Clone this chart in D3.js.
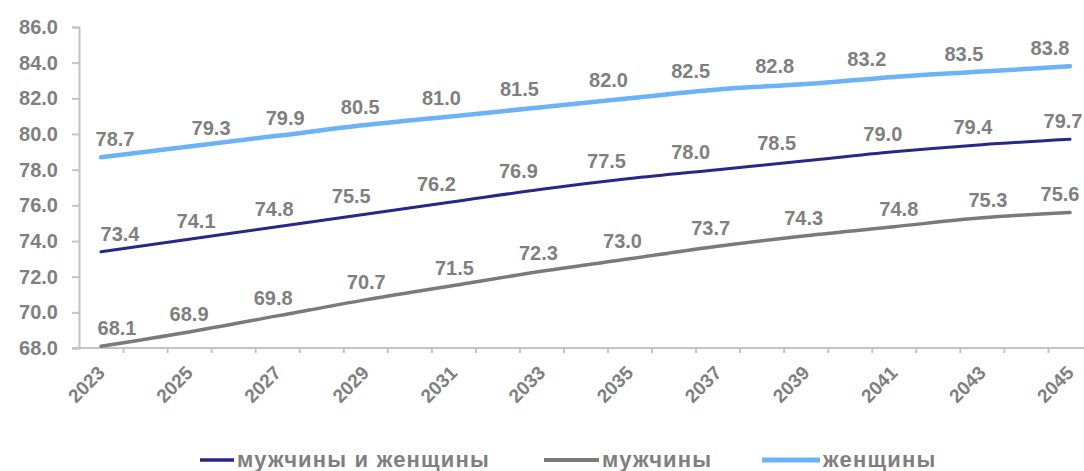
<!DOCTYPE html>
<html>
<head>
<meta charset="utf-8">
<script src="https://cdn.jsdelivr.net/npm/d3@7/dist/d3.min.js"></script>
<style>
  html, body { margin: 0; padding: 0; background: #fff; }
  svg { display: block; }
  text { font-family: "Liberation Sans", Arial, sans-serif; font-weight: bold; fill: #7f7f7f; }
</style>
</head>
<body>
<svg id="chart" width="1084" height="471"></svg>
<script>
// ---- data ----
const years = [2023, 2025, 2027, 2029, 2031, 2033, 2035, 2037, 2039, 2041, 2043, 2045];
const both  = [73.4, 74.1, 74.8, 75.5, 76.2, 76.9, 77.5, 78.0, 78.5, 79.0, 79.4, 79.7];
const men   = [68.1, 68.9, 69.8, 70.7, 71.5, 72.3, 73.0, 73.7, 74.3, 74.8, 75.3, 75.6];
const women = [78.7, 79.3, 79.9, 80.5, 81.0, 81.5, 82.0, 82.5, 82.8, 83.2, 83.5, 83.8];
const yTicks = [68, 70, 72, 74, 76, 78, 80, 82, 84, 86];
const seriesNames = ["мужчины и женщины", "мужчины", "женщины"];

// ---- styling / layout ----
const colors = ["#27278a", "#7a7a7a", "#6cb2f6"];
const widths = [3, 3.5, 4.5];
// small per-label horizontal nudges (as placed in the original chart)
const labelNudge = [
  [19, 7, -3, -14, -17, -23, -23, -27, -29, -11, -9, -7],
  [16, 0, -4, 1, 1, -3, -7, -7, -2, 5, 6, -10],
  [14, 22, 8, -5, -12, -22, -21, -27, -31, -27, -18, -20]
];

const svg = d3.select("#chart");
const x = d3.scaleLinear().domain([2023, 2045]).range([101, 1070]);
const y = d3.scaleLinear().domain([68, 86]).range([348, 27]);
const axisColor = "#c3c3c3";

// y axis
const yAxisX = x(2022.5);
const gy = svg.append("g").attr("transform", `translate(${yAxisX},0)`)
  .call(d3.axisLeft(y).tickValues(yTicks).tickFormat(d3.format(".1f")).tickSize(7).tickPadding(14));
gy.select(".domain").attr("stroke", axisColor).attr("stroke-width", 2);
gy.selectAll(".tick line").attr("stroke", axisColor).attr("stroke-width", 2);
gy.selectAll(".tick text").attr("font-size", 20).attr("font-family", "Liberation Sans, Arial, sans-serif")
  .attr("font-weight", "bold").attr("fill", "#7f7f7f");

// x axis (category-style ticks between years)
const allYears = d3.range(2023, 2046);
const xTickVals = allYears.map(d => d + 0.5);
const gx = svg.append("g").attr("transform", `translate(0,${y(68)})`)
  .call(d3.axisBottom(x).tickValues(xTickVals).tickFormat("").tickSize(5).tickSizeOuter(0));
gx.select(".domain").attr("stroke", axisColor).attr("stroke-width", 2)
  .attr("d", `M${yAxisX - 7},0H${x(2045.5)}`);
gx.selectAll(".tick line").attr("stroke", axisColor).attr("stroke-width", 2);

// x labels, rotated
svg.append("g").selectAll("text").data(years).join("text")
  .attr("transform", d => `translate(${x(d) + 5},${y(68) + 26}) rotate(-45)`)
  .attr("text-anchor", "end")
  .attr("font-size", 19)
  .text(d => d);

// lines
const series = [both, men, women];
const line = d3.line().x((d, i) => x(years[i])).y(d => y(d)).curve(d3.curveMonotoneX);
[2, 0, 1].forEach(s => {
  svg.append("path").datum(series[s])
    .attr("fill", "none").attr("stroke", colors[s]).attr("stroke-width", widths[s])
    .attr("stroke-linecap", "round").attr("d", line);
});

// data labels
series.forEach((vals, s) => {
  svg.append("g").selectAll("text").data(vals).join("text")
    .attr("x", (d, i) => x(years[i]) + labelNudge[s][i])
    .attr("y", d => y(d) - 11)
    .attr("text-anchor", "middle")
    .attr("font-size", 20)
    .text(d => d3.format(".1f")(d));
});

// legend
const legendY = 466;
const legendItems = [
  { x0: 200, x1: 234 },
  { x0: 544, x1: 599 },
  { x0: 762, x1: 820 }
];
const lg = svg.append("g");
seriesNames.forEach((name, s) => {
  lg.append("line").attr("x1", legendItems[s].x0).attr("x2", legendItems[s].x1)
    .attr("y1", legendY - 6).attr("y2", legendY - 6)
    .attr("stroke", colors[s]).attr("stroke-width", widths[s] + 0.5);
  lg.append("text").attr("x", legendItems[s].x1 + 3).attr("y", legendY + 1)
    .attr("font-size", 22).attr("letter-spacing", 1.2).text(name);
});
</script>
</body>
</html>
